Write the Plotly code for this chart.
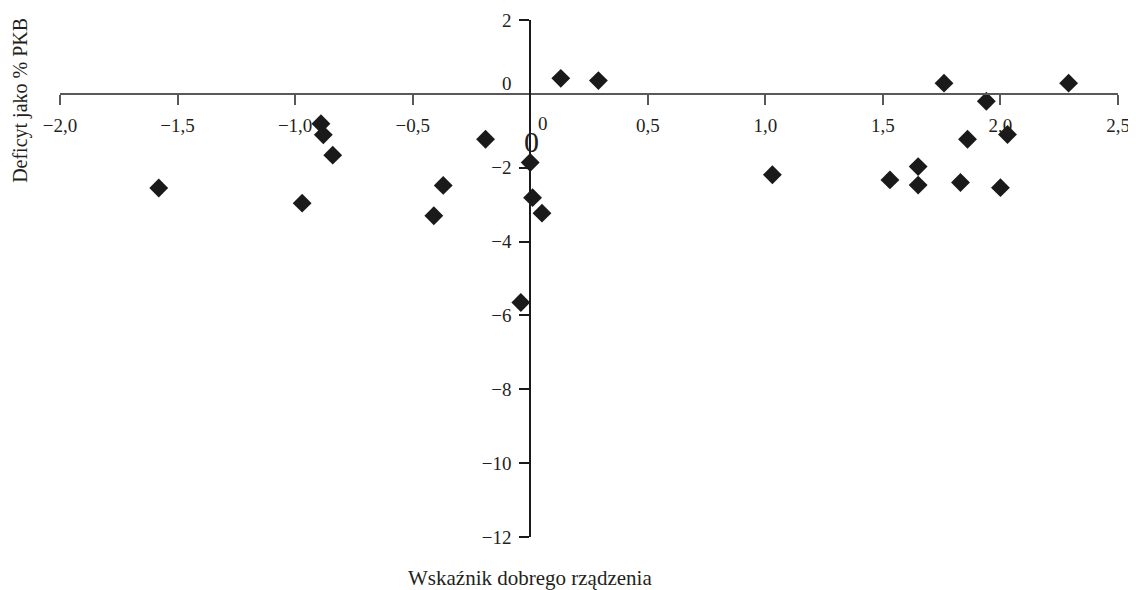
import plotly.graph_objects as go

# Data
governance = [-1.58, -0.97, -0.89, -0.88, -0.84, -0.41, -0.37, -0.19, -0.04, 0.00,
              0.01, 0.05, 0.13, 0.29, 1.03, 1.53, 1.65, 1.65, 1.76, 1.83,
              1.86, 1.94, 2.00, 2.03, 2.29]
deficit = [-2.55, -2.96, -0.81, -1.11, -1.66, -3.30, -2.48, -1.23, -5.65, -1.86,
           -2.81, -3.23, 0.42, 0.36, -2.19, -2.33, -1.97, -2.47, 0.29, -2.40,
           -1.23, -0.20, -2.54, -1.10, 0.29]

x_tickvals = [-2.0, -1.5, -1.0, -0.5, 0.5, 1.0, 1.5, 2.0, 2.5]
x_ticktext = ["\u22122,0", "\u22121,5", "\u22121,0", "\u22120,5", "0,5", "1,0", "1,5", "2,0", "2,5"]
y_tickvals = [2, -2, -4, -6, -8, -10, -12]
y_ticktext = ["2", "\u22122", "\u22124", "\u22126", "\u22128", "\u221210", "\u221212"]

x_title = "Wska\u017anik dobrego rz\u0105dzenia"
y_title = "Deficyt jako % PKB"

FONT = "Liberation Serif"
TXT = "#231f20"

fig = go.Figure()
fig.add_trace(go.Scatter(
    x=governance, y=deficit, mode="markers",
    marker=dict(symbol="diamond", size=14.5, color="#1a1a1a", line=dict(width=0)),
    hoverinfo="x+y", showlegend=False,
))

xr = [-2.0, 2.5]
yr = [-12, 2]

fig.update_layout(
    width=1128, height=582,
    margin=dict(l=52, r=18, t=12, b=53, autoexpand=False),
    paper_bgcolor="white", plot_bgcolor="white",
    font=dict(family=FONT, size=19, color=TXT),
    xaxis=dict(
        range=xr, showgrid=False, zeroline=False, automargin=False,
        showline=True, linecolor="#595959", linewidth=2,
        ticks="outside", ticklen=10, tickwidth=2, tickcolor="#595959",
        tickvals=x_tickvals, ticktext=x_ticktext,
        anchor="free", position=(0 - yr[0]) / (yr[1] - yr[0]),
        ticklabelstandoff=4,
        tickfont=dict(family=FONT, size=19, color=TXT),
    ),
    yaxis=dict(
        range=yr, showgrid=False, zeroline=False, automargin=False,
        showline=True, linecolor="#1a1a1a", linewidth=2,
        ticks="outside", ticklen=10, tickwidth=2, tickcolor="#1a1a1a",
        tickvals=y_tickvals, ticktext=y_ticktext,
        anchor="free", position=(0 - xr[0]) / (xr[1] - xr[0]),
        ticklabelstandoff=4,
        tickfont=dict(family=FONT, size=19, color=TXT),
    ),
    annotations=[
        # y-axis zero label (shifted up, as in reference)
        dict(x=0, y=0, xref="x", yref="y", text="0", showarrow=False,
             xanchor="right", yanchor="middle", xshift=-16, yshift=10,
             font=dict(family=FONT, size=19, color=TXT)),
        # x-axis zero label (small, right of the axis)
        dict(x=0, y=0, xref="x", yref="y", text="0", showarrow=False,
             xanchor="center", yanchor="middle", xshift=13, yshift=-30,
             font=dict(family=FONT, size=19, color=TXT)),
        # large origin zero
        dict(x=0, y=0, xref="x", yref="y", text="0", showarrow=False,
             xanchor="center", yanchor="middle", xshift=1, yshift=-48,
             font=dict(family=FONT, size=30, color=TXT)),
        # axis titles
        dict(x=0, y=0, xref="x", yref="paper", text=x_title, showarrow=False,
             xanchor="center", yanchor="middle", yshift=-41,
             font=dict(family=FONT, size=21, color=TXT)),
        dict(x=0, y=0, xref="paper", yref="y", text=y_title, showarrow=False,
             textangle=-90, xanchor="center", yanchor="middle", xshift=-39, yshift=-7,
             font=dict(family=FONT, size=20, color=TXT)),
    ],
)

fig.write_html("out.html")
